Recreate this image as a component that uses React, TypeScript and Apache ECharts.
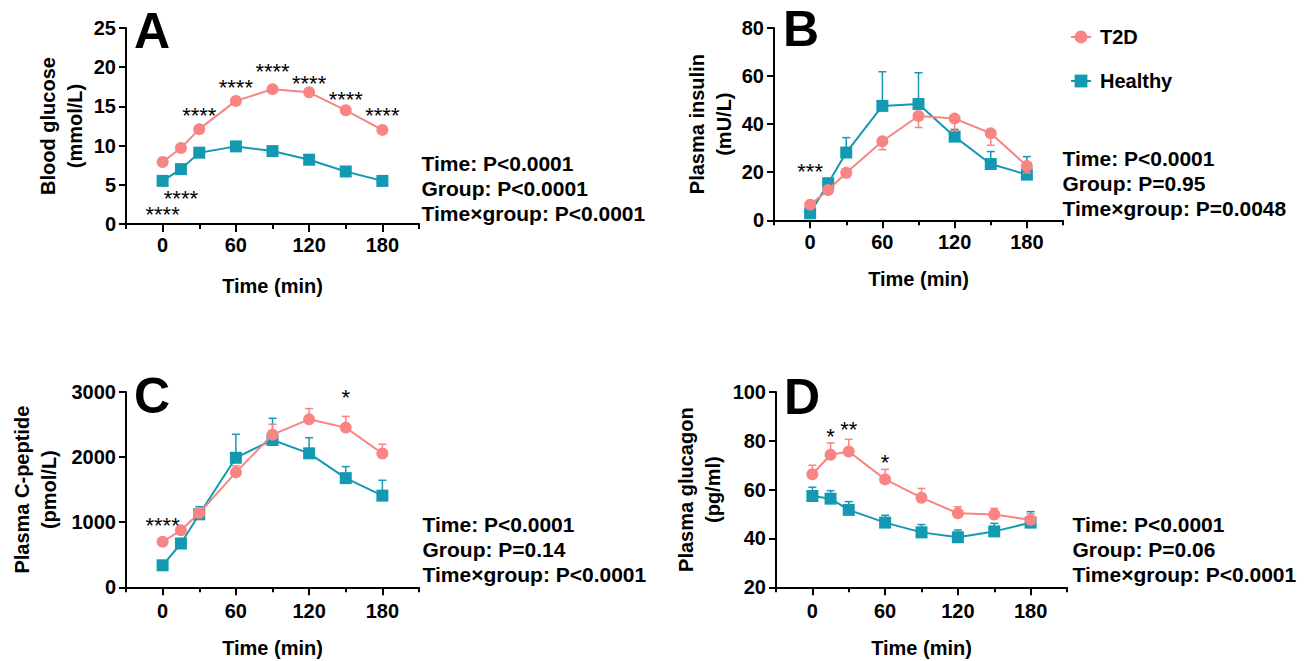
import React, { useEffect, useRef } from 'react';
import * as echarts from 'echarts';

const FONT = '"Liberation Sans", Arial, Helvetica, sans-serif';
const PINK = '#F88484';
const TEAL = '#139AB2';

const times = [0, 15, 30, 60, 90, 120, 150, 180];
const timeTickLabels = [0, 60, 120, 180];
const groupNames = ['T2D', 'Healthy'];

// Panel A – blood glucose (mmol/L)
const glucoseT2D = [7.9, 9.7, 12.1, 15.7, 17.2, 16.8, 14.5, 12.0];
const glucoseT2DErr = [0, 0, 0, 0, 0, 0, 0, 0];
const glucoseHealthy = [5.5, 7.0, 9.1, 9.9, 9.3, 8.2, 6.7, 5.5];
const glucoseHealthyErr = [0, 0, 0, 0, 0, 0, 0, 0];
const glucoseSigTimes = [0, 15, 30, 60, 90, 120, 150, 180];
const glucoseSigLevels = [1.8, 3.9, 14.5, 18.0, 20.1, 18.5, 16.5, 14.5];
const glucoseSigLabels = ['****', '****', '****', '****', '****', '****', '****', '****'];
const glucoseStats = ['Time: P<0.0001', 'Group: P<0.0001', 'Time×group: P<0.0001'];

// Panel B – plasma insulin (mU/L)
const insulinT2D = [6.5, 12.6, 19.8, 32.9, 43.4, 42.3, 36.2, 22.6];
const insulinT2DErr = [-1, -1.5, -2, -3.5, -4.8, -5.1, -5.0, -2.9];
const insulinHealthy = [2.9, 15.4, 28.2, 47.6, 48.4, 34.8, 23.4, 19.0];
const insulinHealthyErr = [1, 2, 6.2, 14.2, 13.0, 3, 5.2, 7.5];
const insulinSigTimes = [0];
const insulinSigLevels = [22.2];
const insulinSigLabels = ['***'];
const insulinStats = ['Time: P<0.0001', 'Group: P=0.95', 'Time×group: P=0.0048'];

// Panel C – plasma C-peptide (pmol/L)
const cpeptideT2D = [700, 875, 1140, 1765, 2345, 2580, 2453, 2055];
const cpeptideT2DErr = [40, 50, 60, 100, 160, 165, 172, 142];
const cpeptideHealthy = [338, 673, 1121, 1990, 2263, 2058, 1677, 1408];
const cpeptideHealthyErr = [40, 60, 117, 360, 333, 240, 177, 236];
const cpeptideSigTimes = [0, 150];
const cpeptideSigLevels = [1030, 3000];
const cpeptideSigLabels = ['****', '*'];
const cpeptideStats = ['Time: P<0.0001', 'Group: P=0.14', 'Time×group: P<0.0001'];

// Panel D – plasma glucagon (pg/ml)
const glucagonT2D = [66.3, 74.3, 75.6, 64.2, 56.7, 50.3, 49.8, 47.6];
const glucagonT2DErr = [3.7, 4.8, 5.0, 4.1, 3.8, 2.7, 2.5, 2.5];
const glucagonHealthy = [57.4, 56.3, 51.7, 46.5, 42.5, 40.5, 42.9, 46.5];
const glucagonHealthyErr = [3.6, 3.3, 3.4, 3.0, 3.2, 3.0, 3.3, 4.5];
const glucagonSigTimes = [15, 30, 60];
const glucagonSigLevels = [83.8, 86.5, 73.3];
const glucagonSigLabels = ['*', '**', '*'];
const glucagonStats = ['Time: P<0.0001', 'Group: P=0.06', 'Time×group: P<0.0001'];

type Panel = {
  letter: string;
  yName: string;
  yMin: number;
  yMax: number;
  yStep: number;
  t2d: number[];
  t2dErr: number[];
  healthy: number[];
  healthyErr: number[];
  sigTimes: number[];
  sigLevels: number[];
  sigLabels: string[];
  stats: string[];
  left: number;
  top: number;
  width: number;
  height: number;
  yNameGap: number;
  xNameGap: number;
  xLabelMargin: number;
  letterPos: [number, number];
  statsPos: [number, number];
};

const panels: Panel[] = [
  {
    letter: 'A', yName: 'Blood glucose\n(mmol/L)', yMin: 0, yMax: 25, yStep: 5,
    t2d: glucoseT2D, t2dErr: glucoseT2DErr, healthy: glucoseHealthy, healthyErr: glucoseHealthyErr,
    sigTimes: glucoseSigTimes, sigLevels: glucoseSigLevels, sigLabels: glucoseSigLabels, stats: glucoseStats,
    left: 126, top: 28, width: 293, height: 196, yNameGap: 64.5, xNameGap: 62, xLabelMargin: 11,
    letterPos: [152, 30.5], statsPos: [421.5, 163.5],
  },
  {
    letter: 'B', yName: 'Plasma insulin\n(mU/L)', yMin: 0, yMax: 80, yStep: 20,
    t2d: insulinT2D, t2dErr: insulinT2DErr, healthy: insulinHealthy, healthyErr: insulinHealthyErr,
    sigTimes: insulinSigTimes, sigLevels: insulinSigLevels, sigLabels: insulinSigLabels, stats: insulinStats,
    left: 774, top: 28, width: 289, height: 192.3, yNameGap: 64, xNameGap: 59, xLabelMargin: 12,
    letterPos: [801, 29], statsPos: [1062.5, 158.5],
  },
  {
    letter: 'C', yName: 'Plasma C-peptide\n(pmol/L)', yMin: 0, yMax: 3000, yStep: 1000,
    t2d: cpeptideT2D, t2dErr: cpeptideT2DErr, healthy: cpeptideHealthy, healthyErr: cpeptideHealthyErr,
    sigTimes: cpeptideSigTimes, sigLevels: cpeptideSigLevels, sigLabels: cpeptideSigLabels, stats: cpeptideStats,
    left: 126, top: 392, width: 293, height: 195.3, yNameGap: 90.5, xNameGap: 61, xLabelMargin: 14,
    letterPos: [152, 396], statsPos: [422.5, 524],
  },
  {
    letter: 'D', yName: 'Plasma glucagon\n(pg/ml)', yMin: 20, yMax: 100, yStep: 20,
    t2d: glucagonT2D, t2dErr: glucagonT2DErr, healthy: glucagonHealthy, healthyErr: glucagonHealthyErr,
    sigTimes: glucagonSigTimes, sigLevels: glucagonSigLevels, sigLabels: glucagonSigLabels, stats: glucagonStats,
    left: 776, top: 392, width: 291, height: 195.3, yNameGap: 76.5, xNameGap: 61, xLabelMargin: 14,
    letterPos: [802, 396.5], statsPos: [1072.5, 524],
  },
];

const errRender = (color: string) => (params: any, api: any) => {
  const x = api.value(0);
  const y = api.value(1);
  const e = api.value(2);
  if (!e) return null;
  const p1 = api.coord([x, y]);
  const p2 = api.coord([x, y + e]);
  const st = { stroke: color, lineWidth: 1.5 };
  return {
    type: 'group',
    children: [
      { type: 'line', shape: { x1: p1[0], y1: p1[1], x2: p2[0], y2: p2[1] }, style: st },
      { type: 'line', shape: { x1: p2[0] - 4, y1: p2[1], x2: p2[0] + 4, y2: p2[1] }, style: st },
    ],
  };
};

const sigSeriesMap: Record<number, string[]> = {};
function panelsSigLabel(seriesIndex: number, dataIndex: number) {
  const arr = sigSeriesMap[seriesIndex];
  return arr ? arr[dataIndex] : '';
}

const sigRender = (params: any, api: any) => {
  const p = api.coord([api.value(0), api.value(1)]);
  const label = panelsSigLabel(params.seriesIndex, params.dataIndex);
  return {
    type: 'text',
    x: p[0],
    y: p[1] + 5,
    style: {
      text: label,
      fill: '#000',
      font: `22px ${FONT}`,
      lineHeight: 10,
      align: 'center',
      verticalAlign: 'middle',
      textAlign: 'center',
      textVerticalAlign: 'middle',
    },
  };
};

function buildOption() {
  const grid: any[] = [];
  const xAxis: any[] = [];
  const yAxis: any[] = [];
  const series: any[] = [];
  const graphic: any[] = [];

  const axisLineStyle = { color: '#000', width: 2 };
  const labelStyle = { color: '#000', fontSize: 20, fontWeight: 'bold', fontFamily: FONT };

  panels.forEach((p, i) => {
    const g = i * 2;
    grid.push({ left: p.left, top: p.top, width: p.width, height: p.height, containLabel: false });
    // overlay grid carrying the labelled major ticks (0..180)
    grid.push({ left: p.left + p.width / 8, top: p.top, width: (p.width * 3) / 4, height: p.height, containLabel: false });

    xAxis.push({
      type: 'value', gridIndex: g, min: -30, max: 210, interval: 30,
      axisLine: { show: true, lineStyle: axisLineStyle, onZero: false },
      axisTick: { show: true, length: 5, lineStyle: { color: '#000', width: 2 } },
      axisLabel: { show: false },
      splitLine: { show: false },
      name: 'Time (min)', nameLocation: 'middle', nameGap: p.xNameGap,
      nameTextStyle: { ...labelStyle, verticalAlign: 'middle', align: 'center' },
    });
    xAxis.push({
      type: 'value', gridIndex: g + 1, min: timeTickLabels[0], max: timeTickLabels[timeTickLabels.length - 1], interval: 60,
      axisLine: { show: false, onZero: false },
      axisTick: { show: true, length: 8, lineStyle: { color: '#000', width: 2 } },
      axisLabel: { show: true, margin: p.xLabelMargin, ...labelStyle, formatter: (v: number) => String(v) },
      splitLine: { show: false },
    });
    yAxis.push({
      type: 'value', gridIndex: g, min: p.yMin, max: p.yMax, interval: p.yStep,
      axisLine: { show: true, lineStyle: axisLineStyle, onZero: false },
      axisTick: { show: true, length: 7, lineStyle: { color: '#000', width: 2 } },
      axisLabel: { show: true, margin: 10, ...labelStyle, formatter: (v: number) => String(v) },
      splitLine: { show: false },
      name: p.yName, nameLocation: 'middle', nameGap: p.yNameGap, nameRotate: 90,
      nameTextStyle: { ...labelStyle, lineHeight: 27, verticalAlign: 'middle', align: 'center' },
    });
    yAxis.push({ type: 'value', gridIndex: g + 1, min: 0, max: 1, show: false });

    const errData = (vals: number[], errs: number[]) => times.map((t, k) => [t, vals[k], errs[k]]);

    series.push({
      type: 'custom', name: 'Healthy SEM', xAxisIndex: g, yAxisIndex: g, z: 2,
      renderItem: errRender(TEAL), data: errData(p.healthy, p.healthyErr), silent: true,
    });
    series.push({
      type: 'line', name: groupNames[1], xAxisIndex: g, yAxisIndex: g, z: 3,
      data: times.map((t, k) => [t, p.healthy[k]]),
      symbol: 'rect', symbolSize: 12, showAllSymbol: true,
      lineStyle: { color: TEAL, width: 2 }, itemStyle: { color: TEAL },
    });
    series.push({
      type: 'custom', name: 'T2D SEM', xAxisIndex: g, yAxisIndex: g, z: 4,
      renderItem: errRender(PINK), data: errData(p.t2d, p.t2dErr), silent: true,
    });
    series.push({
      type: 'line', name: groupNames[0], xAxisIndex: g, yAxisIndex: g, z: 5,
      data: times.map((t, k) => [t, p.t2d[k]]),
      symbol: 'circle', symbolSize: 12, showAllSymbol: true,
      lineStyle: { color: PINK, width: 2 }, itemStyle: { color: PINK },
    });
    sigSeriesMap[series.length] = p.sigLabels;
    series.push({
      type: 'custom', name: 'sig', xAxisIndex: g, yAxisIndex: g, z: 6, silent: true, clip: false,
      renderItem: sigRender, data: p.sigTimes.map((t, k) => [t, p.sigLevels[k]]),
    });

    graphic.push({
      type: 'text', x: p.letterPos[0], y: p.letterPos[1],
      style: {
        text: p.letter, fill: '#000', font: `bold 50px ${FONT}`,
        align: 'center', verticalAlign: 'middle', textAlign: 'center', textVerticalAlign: 'middle',
      },
    });
    p.stats.forEach((s, k) => {
      graphic.push({
        type: 'text', x: p.statsPos[0], y: p.statsPos[1] + k * 25,
        style: {
          text: s, fill: '#000', font: `bold 21px ${FONT}`,
          align: 'left', verticalAlign: 'middle', textAlign: 'left', textVerticalAlign: 'middle',
        },
      });
    });
  });

  return {
    animation: false,
    backgroundColor: '#fff',
    grid,
    xAxis,
    yAxis,
    series,
    graphic,
    legend: {
      data: groupNames,
      orient: 'vertical',
      left: 1065,
      top: 22,
      itemWidth: 20,
      itemHeight: 16,
      itemGap: 24,
      selectedMode: false,
      textStyle: { color: '#000', fontSize: 20, fontWeight: 'bold', fontFamily: FONT, padding: [0, 0, 0, 4] },
    },
  };
}

export default function App() {
  const ref = useRef<HTMLDivElement>(null);
  useEffect(() => {
    document.body.style.margin = '0';
    if (!ref.current) return;
    const chart = echarts.init(ref.current, undefined, { renderer: 'svg' });
    chart.setOption(buildOption() as any);
    return () => chart.dispose();
  }, []);
  return <div ref={ref} style={{ width: 1304, height: 661 }} />;
}
